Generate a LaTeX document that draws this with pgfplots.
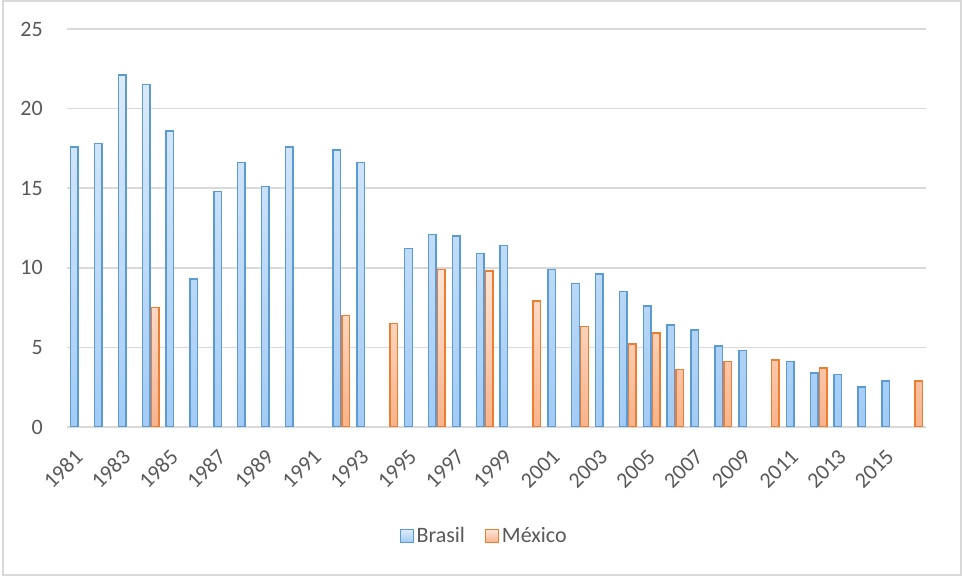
\documentclass[border=0pt]{standalone}
\usepackage{pgfplots}
\pgfplotsset{compat=1.18}
\usepackage{fontspec}
\setmainfont{Carlito}
\definecolor{bblue}{HTML}{5B9BD5}
\definecolor{borange}{HTML}{ED7D31}
\definecolor{gridc}{HTML}{D9D9D9}
\definecolor{txt}{HTML}{595959}
\definecolor{btop}{HTML}{DDEBFA}
\definecolor{bbot}{HTML}{A3CBF5}
\definecolor{otop}{HTML}{FDE4D6}
\definecolor{obot}{HTML}{F8B38C}
\begin{document}
\begin{tikzpicture}
\useasboundingbox (-50.25pt,-112.5pt) rectangle (672pt,320.25pt);
\draw[gridc, line width=0.8pt] (-48pt,-111pt) rectangle (670.5pt,319.5pt);
\begin{axis}[
  at={(0,0)}, anchor=south west,
  scale only axis, width=644.25pt, height=298.5pt,
  ybar=1.1pt, bar width=5.65pt,
  xmin=1980.5, xmax=2016.5, ymin=0, ymax=25,
  xtick={1981,1983,...,2015}, ytick={0,5,...,25},
  ymajorgrids, grid style={gridc, line width=1.1pt},
  axis line style={draw=none},
  major tick length=0pt,
  /pgf/number format/assume math mode=true,
  /pgf/number format/1000 sep={},
  tick label style={font=\fontsize{16.5}{19}\selectfont, text=txt},
  yticklabel style={anchor=east, inner sep=0pt},
  yticklabel shift=18pt,
  xticklabel style={rotate=45, anchor=east, inner sep=0pt},
  xticklabel shift=19.5pt,
  legend style={at={(0.486,-0.274)}, anchor=center, draw=none, legend columns=2,
    font=\fontsize{16.5}{19}\selectfont, text=txt,
    /tikz/every even column/.append style={column sep=13pt}},
  legend image code/.code={\draw[#1, line width=1pt] (0pt,-4.9pt) rectangle (9.75pt,4.9pt);},
]
\addplot[draw=bblue, line width=1.1pt, top color=btop, bottom color=bbot] coordinates {
(1981,17.6) (1982,17.8) (1983,22.1) (1984,21.5) (1985,18.6) (1986,9.3) (1987,14.8)
(1988,16.6) (1989,15.1) (1990,17.6) (1992,17.4) (1993,16.6) (1995,11.2) (1996,12.1)
(1997,12.0) (1998,10.9) (1999,11.4) (2001,9.9) (2002,9.0) (2003,9.6) (2004,8.5)
(2005,7.6) (2006,6.4) (2007,6.1) (2008,5.1) (2009,4.8) (2011,4.1) (2012,3.4)
(2013,3.3) (2014,2.5) (2015,2.9)
};
\addplot[draw=borange, line width=1.1pt, top color=otop, bottom color=obot] coordinates {
(1984,7.5) (1992,7.0) (1994,6.5) (1996,9.9) (1998,9.8) (2000,7.9) (2002,6.3)
(2004,5.2) (2005,5.9) (2006,3.6) (2008,4.1) (2010,4.2) (2012,3.7) (2016,2.9)
};
\legend{Brasil, México}
\end{axis}
\end{tikzpicture}
\end{document}
